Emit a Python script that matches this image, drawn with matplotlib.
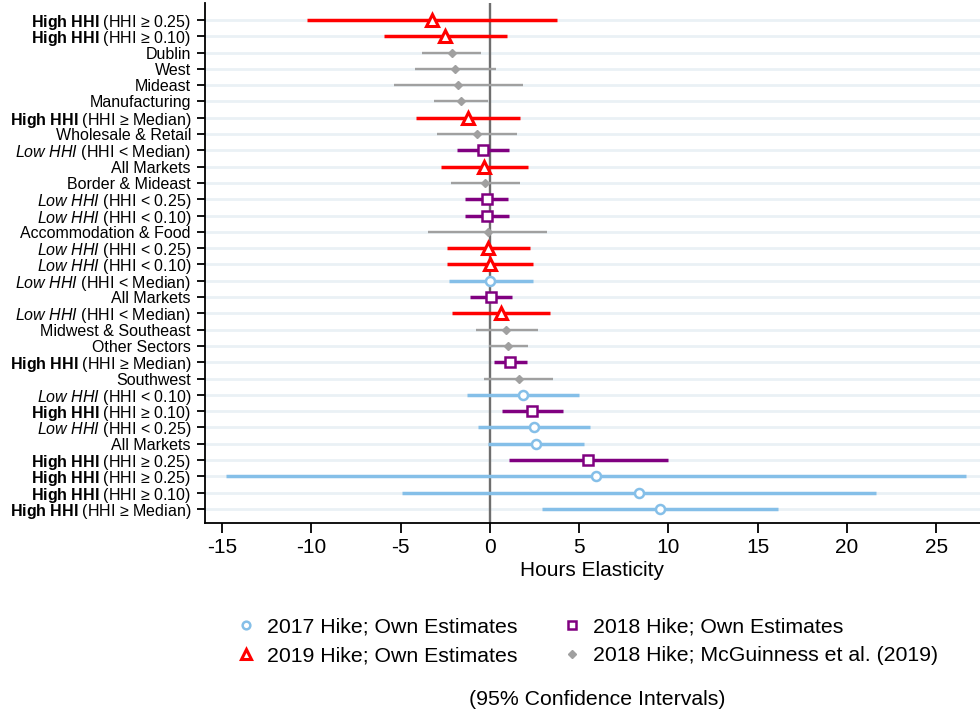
import numpy as np
import matplotlib
matplotlib.use("Agg")
import matplotlib.pyplot as plt
from matplotlib.lines import Line2D

plt.rcParams['font.family'] = ['Liberation Sans', 'DejaVu Sans']
plt.rcParams['mathtext.fontset'] = 'custom'
plt.rcParams['mathtext.rm'] = 'Liberation Sans'
plt.rcParams['mathtext.bf'] = 'Liberation Sans:bold'
plt.rcParams['mathtext.it'] = 'Liberation Sans:italic'

HB = r"$\mathbf{High\ HHI}$"
LI = r"$\mathit{Low\ HHI}$"

# rows from top to bottom
labels = [
    HB + " (HHI ≥ 0.25)", HB + " (HHI ≥ 0.10)", "Dublin", "West", "Mideast",
    "Manufacturing", HB + " (HHI ≥ Median)", "Wholesale & Retail",
    LI + " (HHI < Median)", "All Markets", "Border & Mideast",
    LI + " (HHI < 0.25)", LI + " (HHI < 0.10)", "Accommodation & Food",
    LI + " (HHI < 0.25)", LI + " (HHI < 0.10)", LI + " (HHI < Median)",
    "All Markets", LI + " (HHI < Median)", "Midwest & Southeast",
    "Other Sectors", HB + " (HHI ≥ Median)", "Southwest",
    LI + " (HHI < 0.10)", HB + " (HHI ≥ 0.10)", LI + " (HHI < 0.25)",
    "All Markets", HB + " (HHI ≥ 0.25)", HB + " (HHI ≥ 0.25)",
    HB + " (HHI ≥ 0.10)", HB + " (HHI ≥ Median)",
]
# series: 2017 / 2018 / 2019 own estimates, mcg = McGuinness et al.
series = ["2019", "2019", "mcg", "mcg", "mcg", "mcg", "2019", "mcg", "2018", "2019",
          "mcg", "2018", "2018", "mcg", "2019", "2019", "2017", "2018", "2019", "mcg",
          "mcg", "2018", "mcg", "2017", "2018", "2017", "2017", "2018", "2017", "2017",
          "2017"]
est = [-3.27, -2.52, -2.15, -1.94, -1.77, -1.62, -1.21, -0.75, -0.41, -0.34,
       -0.28, -0.19, -0.19, -0.13, -0.09, -0.02, 0.02, 0.04, 0.60, 0.91,
       1.03, 1.14, 1.61, 1.83, 2.37, 2.48, 2.59, 5.51, 5.94, 8.35,
       9.50]
ci_lo = [-10.24, -5.94, -3.79, -4.18, -5.38, -3.12, -4.15, -2.97, -1.87, -2.75,
         -2.18, -1.38, -1.40, -3.45, -2.39, -2.39, -2.32, -1.12, -2.15, -0.80,
         -0.06, 0.22, -0.36, -1.29, 0.65, -0.65, -0.09, 1.08, -14.79, -4.91,
         2.89]
ci_hi = [3.73, 0.93, -0.50, 0.32, 1.85, -0.13, 1.68, 1.49, 1.08, 2.15,
         1.68, 0.99, 1.08, 3.17, 2.22, 2.39, 2.39, 1.23, 3.36, 2.67,
         2.11, 2.09, 3.55, 4.99, 4.11, 5.60, 5.29, 9.97, 26.67, 21.64,
         16.15]

legend_names = {
    "2017": "2017 Hike; Own Estimates",
    "2018": "2018 Hike; Own Estimates",
    "2019": "2019 Hike; Own Estimates",
    "mcg": "2018 Hike; McGuinness et al. (2019)",
}
styles = {
    "2017": dict(color="#85BFE8", marker="o", ms=6.5, mfc="white", mew=1.8, lw=2.5),
    "2018": dict(color="#800080", marker="s", ms=7, mfc="white", mew=1.8, lw=2.5),
    "2019": dict(color="#FF0000", marker="^", ms=8.5, mfc="white", mew=2.2, lw=2.5),
    "mcg": dict(color="#A0A0A0", marker="D", ms=4.5, mfc="#A0A0A0", mew=1, lw=1.7),
}

fig = plt.figure(figsize=(9.8, 7.15), dpi=100)
ax = fig.add_axes([0.209, 0.2685, 0.791, 0.7273])

y = np.arange(len(labels))
for yi in y:
    ax.axhline(yi, color="#EAF1F5", lw=2, zorder=0)
ax.axvline(0, color="#6E6E6E", lw=1.7, zorder=1)

for i in range(len(labels)):
    st = styles[series[i]]
    ax.plot([ci_lo[i], ci_hi[i]], [y[i], y[i]], color=st["color"], lw=st["lw"],
            solid_capstyle="butt", zorder=2)
    ax.plot(est[i], y[i], linestyle="none", marker=st["marker"], ms=st["ms"],
            mfc=st["mfc"], mec=st["color"], mew=st["mew"], zorder=3)

ax.set_yticks(y)
ax.set_yticklabels(labels, fontsize=11.5)
ax.set_ylim(len(labels) - 1 + 0.86, -1.04)
ax.set_xlim(-15.97, 27.45)
ax.set_xticks([-15, -10, -5, 0, 5, 10, 15, 20, 25])
ax.set_xticklabels(["-15", "-10", "-5", "0", "5", "10", "15", "20", "25"])
ax.tick_params(axis="x", labelsize=15, length=7, width=1.3, pad=4)
ax.tick_params(axis="y", length=6, width=1.3, pad=4)
ax.set_xlabel("Hours Elasticity", fontsize=15, labelpad=3)
for s in ["top", "right"]:
    ax.spines[s].set_visible(False)
for s in ["left", "bottom"]:
    ax.spines[s].set_linewidth(1.3)

handles = []
for key in ["2017", "2019", "2018", "mcg"]:
    st = styles[key]
    handles.append(Line2D([], [], linestyle="none", marker=st["marker"],
                          ms=st["ms"] * 0.85, mfc=st["mfc"], mec=st["color"],
                          mew=st["mew"], label=legend_names[key]))
fig.legend(handles=handles, ncol=2, loc="center", bbox_to_anchor=(0.5985, 0.1025),
           frameon=False, fontsize=15.3, handletextpad=0.5, columnspacing=2.05,
           labelspacing=0.45, handlelength=1.0)
fig.text(0.609, 0.021, "(95% Confidence Intervals)", ha="center", va="center", fontsize=15.3)

fig.savefig("out.png", dpi=100)
